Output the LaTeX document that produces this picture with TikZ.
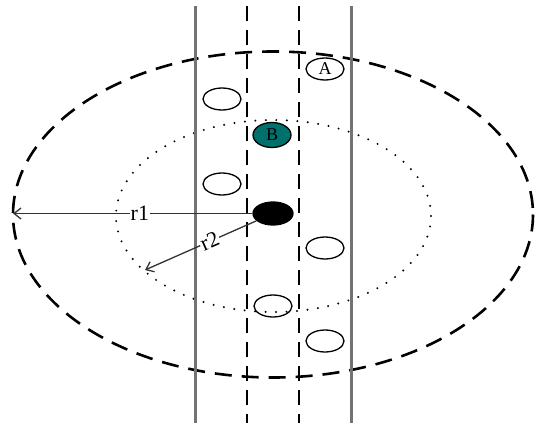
\documentclass[tikz,border=0pt]{standalone}
\usepackage{fontspec}
\setmainfont{Liberation Serif}
\usetikzlibrary{shapes.geometric,arrows.meta}
\definecolor{tealcar}{RGB}{0,112,108}

\begin{document}
\begin{tikzpicture}[x=1pt, y=-1pt,
    veh/.style={ellipse, draw=black, line width=1.3pt, minimum width=38pt, minimum height=22pt, inner sep=0pt, font=\fontsize{18}{18}\selectfont},
    lanesolid/.style={draw=black!55, line width=3pt},
    lanedash/.style={draw=black, line width=1.8pt, dash pattern=on 15pt off 9pt},
    outerring/.style={draw=black, line width=2.6pt, dash pattern=on 17pt off 10pt},
    innerring/.style={draw=black, line width=2.2pt, line cap=round, dash pattern=on 0pt off 10.5pt},
    arr/.style={-{Straight Barb[length=7pt, width=11pt]}, line width=1.3pt, draw=black!80},
    lbl/.style={fill=white, inner sep=1pt, font=\fontsize{22}{22}\selectfont},
  ]
    \useasboundingbox (0,0) rectangle (535,423);

    % --- range rings ---
    \draw[outerring] (273,214.5) ellipse [x radius=260, y radius=163];
    \draw[innerring] (273.5,216) ellipse [x radius=157.5, y radius=96];

    % --- lanes ---
    \draw[lanesolid] (195,6) -- (195,423);
    \draw[lanesolid] (351,6) -- (351,423);
    \draw[lanedash] (247,6) -- (247,423);
    \draw[lanedash] (299,6) -- (299,423);

    % --- vehicles ---
    \node[veh, fill=black, minimum width=40pt, minimum height=23pt] (car) at (273,213.5) {};
    \node[veh, fill=white] (carA) at (325,69) {A};
    \node[veh, fill=tealcar, minimum height=25pt] (carB) at (272,135) {B};
    \node[veh] (v1) at (222,99) {};
    \node[veh] (v2) at (222,184) {};
    \node[veh] (v3) at (325,248) {};
    \node[veh] (v4) at (273,306) {};
    \node[veh] (v5) at (325,341) {};

    % --- radii ---
    \coordinate (r1end) at (13,213.5);
    \coordinate (r2end) at (145,270);
    \draw[arr] (car.west) -- node[lbl, pos=0.47] {r1} (r1end);
    \draw[arr] (car) -- node[lbl, sloped, pos=0.42] {r2} (r2end);

  \end{tikzpicture}
\end{document}
